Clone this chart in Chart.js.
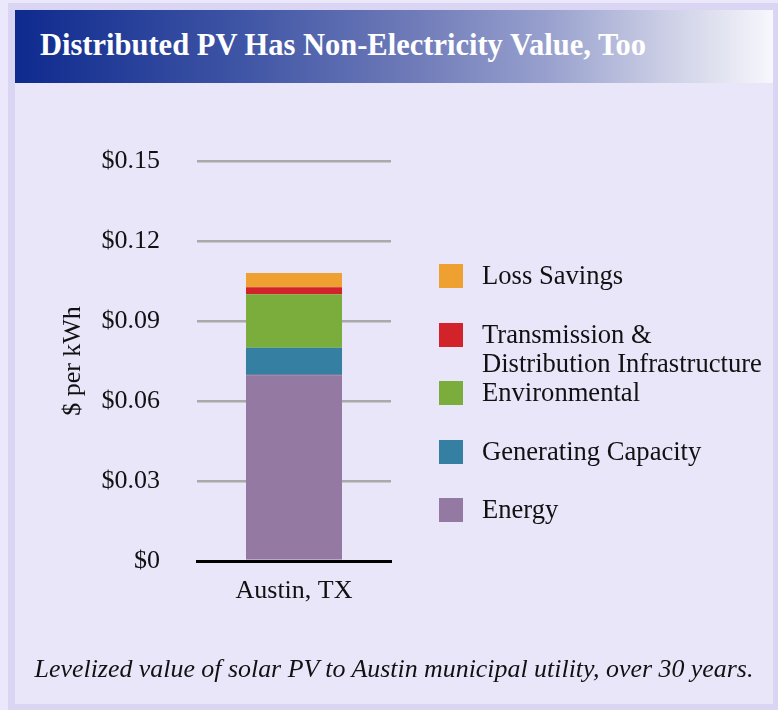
<!DOCTYPE html>
<html>
<head>
<meta charset="utf-8">
<script src="https://cdn.jsdelivr.net/npm/chart.js@4.4.1/dist/chart.umd.min.js"></script>
<style>
  html, body { margin: 0; padding: 0; }
  body { width: 778px; height: 710px; background: #ebe8fb; position: relative; overflow: hidden;
         font-family: "Liberation Serif", "Times New Roman", serif; }
  #panel { position: absolute; left: 8px; top: 3px; width: 770px; height: 707px; box-sizing: border-box;
           background: #e9e6fa; border: 7px solid #d9d5f3; border-right-width: 5px; border-bottom-width: 6px; }
  #titlebar { position: absolute; left: 15px; top: 10px; width: 758px; height: 73px;
              background: linear-gradient(to right, #0e2a8e 0%, #3f55a5 30%, #6e7ab8 52%, #97a0cd 70%, #c9cce4 85%, #f7f7fc 100%); }
  #titletext { position: absolute; left: 25px; top: 20px; font-weight: bold; font-size: 30.5px; line-height: 30px;
               color: #ffffff; white-space: nowrap; }
  #chart { position: absolute; left: 0; top: 0; width: 778px; height: 710px; }
  .lg-sq { position: absolute; left: 439px; width: 24px; height: 24px; }
  .lg-tx { position: absolute; left: 482px; font-size: 26.6px; line-height: 29px; color: #111; white-space: pre; }
  #caption { position: absolute; left: 15px; width: 758px; top: 654px; text-align: center; font-style: italic;
             font-size: 25.9px; line-height: 29px; color: #111; white-space: nowrap; }
</style>
</head>
<body>
<div id="panel"></div>
<div id="titlebar"><div id="titletext">Distributed PV Has Non-Electricity Value, Too</div></div>
<canvas id="chart" width="778" height="710"></canvas>
<div id="legend"></div>
<div id="caption">Levelized value of solar PV to Austin municipal utility, over 30 years.</div>
<script>
// ---- data ----
const categories = ['Austin, TX'];
const seriesNames = ['Energy', 'Generating Capacity', 'Environmental', 'Transmission &\nDistribution Infrastructure', 'Loss Savings'];
const energy = [0.070];
const generatingCapacity = [0.010];
const environmental = [0.020];
const transmissionDistribution = [0.0027];
const lossSavings = [0.0053];
const yTickLabels = ['$0', '$0.03', '$0.06', '$0.09', '$0.12', '$0.15'];
const yAxisTitle = '$ per kWh';

// ---- styles ----
const seriesColors = ['#9479a2', '#357fa3', '#7aad3c', '#d2232b', '#eea030'];
const seriesValues = [energy, generatingCapacity, environmental, transmissionDistribution, lossSavings];
const FONT = '"Liberation Serif", "Times New Roman", serif';

const datasets = seriesNames.map((name, i) => ({
  label: name,
  data: seriesValues[i],
  backgroundColor: seriesColors[i],
  borderColor: i === 0 ? '#2f4468' : seriesColors[i],
  borderWidth: i === 0 ? {top: 1, left: 0, right: 0, bottom: 0} : 0,
  borderSkipped: false,
  barPercentage: 0.495,
  categoryPercentage: 1.0
}));

new Chart(document.getElementById('chart'), {
  type: 'bar',
  data: { labels: categories, datasets: datasets },
  options: {
    responsive: false,
    animation: false,
    events: [],
    layout: { padding: { left: 0, top: 161, right: 387, bottom: 100 } },
    plugins: { legend: { display: false }, tooltip: { enabled: false }, title: { display: false } },
    scales: {
      x: {
        stacked: true,
        z: 1,
        grid: { display: false, drawTicks: false },
        border: { display: true, color: '#000000', width: 3 },
        ticks: { color: '#111', font: { family: FONT, size: 26 }, padding: 15 },
        afterFit: (s) => { s.height = 49; }
      },
      y: {
        stacked: true,
        min: 0,
        max: 0.15,
        grid: { color: '#a9a9a9', lineWidth: 2.5, drawTicks: false },
        border: { display: false },
        ticks: {
          stepSize: 0.03,
          color: '#111',
          font: { family: FONT, size: 26 },
          padding: 37,
          callback: (v, i) => yTickLabels[i] !== undefined ? yTickLabels[i] : v
        },
        title: { display: true, text: yAxisTitle, color: '#111', font: { family: FONT, size: 26 }, padding: { top: 58, bottom: 0 } },
        afterFit: (s) => { s.width = 197; }
      }
    }
  }
});

// ---- legend (HTML, from the datasets, top of stack first) ----
const legend = document.getElementById('legend');
const order = [4, 3, 2, 1, 0];
order.forEach((di, row) => {
  const top = 261 + row * 58.5;
  const sq = document.createElement('div');
  sq.className = 'lg-sq';
  sq.style.top = (top + 3) + 'px';
  sq.style.background = seriesColors[di];
  legend.appendChild(sq);
  const tx = document.createElement('div');
  tx.className = 'lg-tx';
  tx.style.top = top + 'px';
  tx.textContent = seriesNames[di];
  legend.appendChild(tx);
});
</script>
</body>
</html>
